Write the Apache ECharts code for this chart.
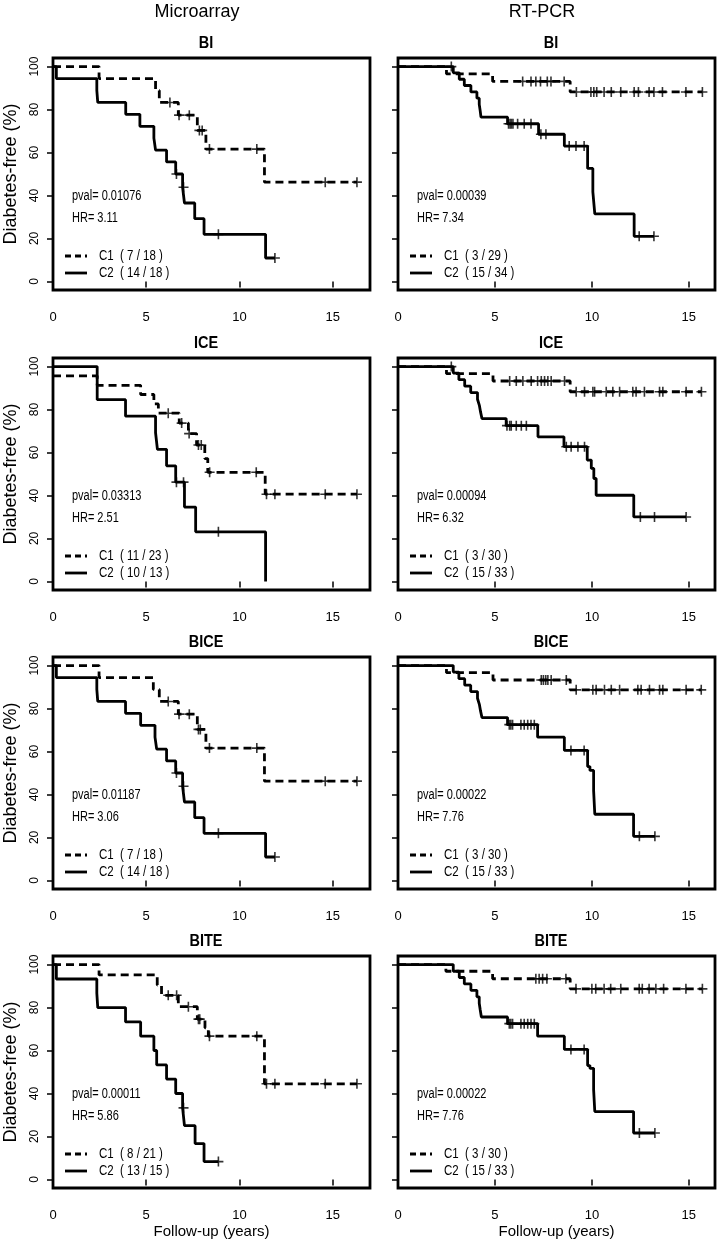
<!DOCTYPE html>
<html><head><meta charset="utf-8">
<script src="https://cdn.jsdelivr.net/npm/echarts@6/dist/echarts.min.js"></script>
<style>html,body{margin:0;padding:0;background:#fff}#c{width:717px;height:1243px}</style>
</head><body><div id="c"></div>
<script>
// ---------- texts ----------
const columnTitles = ['Microarray', 'RT-PCR'];
const panelTitles = ['BI', 'ICE', 'BICE', 'BITE'];
const xTicks = [0, 5, 10, 15];
const yTicks = [0, 20, 40, 60, 80, 100];
const xMaxByColumn = [17, 16.35];
const pvalMA = ['0.01076', '0.03313', '0.01187', '0.00011'];
const hrMA = ['3.11', '2.51', '3.06', '5.86'];
const pvalRT = ['0.00039', '0.00094', '0.00022', '0.00022'];
const hrRT = ['7.34', '6.32', '7.76', '7.76'];
const countsMA_C1 = ['7 / 18', '11 / 23', '7 / 18', '8 / 21'];
const countsMA_C2 = ['14 / 18', '10 / 13', '14 / 18', '13 / 15'];
const countsRT_C1 = ['3 / 29', '3 / 30', '3 / 30', '3 / 30'];
const countsRT_C2 = ['15 / 34', '15 / 33', '15 / 33', '15 / 33'];

// ---------- Microarray curves [years, %] ----------
const maBI_C1 = [[0,100],[2.47,94.4],[5.5,88.9],[5.7,83.3],[6.72,77.4],[7.74,70.3],[8.2,61.6],[11.34,46.2],[16.3,46.2]];
const maBI_C1cens = [[6.27,83.3],[6.76,77.4],[7.31,77.4],[7.85,70.3],[8.0,70.3],[8.39,61.6],[10.93,61.6],[14.6,46.2],[16.3,46.2]];
const maBI_C2 = [[0,100],[0.18,94.4],[2.35,88.9],[2.4,83.3],[3.9,77.8],[4.66,72.2],[5.41,66.7],[5.5,61.1],[6.09,55.6],[6.58,50],[6.95,43.8],[7.05,36.5],[7.6,29.2],[8.1,21.9],[11.4,10.9],[11.9,10.9]];
const maBI_C2cens = [[6.62,50],[7.0,43.8],[8.87,21.9],[11.9,10.9]];

const maICE_C1 = [[0,95.7],[2.37,91.3],[4.7,87],[5.41,82.6],[5.65,78.3],[6.77,73.7],[7.26,68.8],[7.7,63.5],[8.14,57.2],[8.3,50.8],[11.38,40.6],[16.3,40.6]];
const maICE_C1cens = [[6.18,78.3],[6.9,73.7],[7.3,68.8],[7.8,63.5],[7.95,63.5],[8.4,50.8],[10.9,50.8],[11.45,40.6],[11.9,40.6],[14.6,40.6],[16.3,40.6]];
const maICE_C2 = [[0,100],[2.37,84.6],[3.89,76.9],[5.5,69.2],[5.6,61.5],[6.09,53.8],[6.58,46.2],[7.05,34.6],[7.65,23.1],[11.4,0]];
const maICE_C2cens = [[6.62,46.2],[7.0,46.2],[8.87,23.1]];

const maBICE_C1 = [[0,100],[2.47,94.4],[5.38,88.9],[5.7,83.3],[6.72,77.4],[7.74,70.3],[8.2,61.6],[11.34,46.2],[16.3,46.2]];
const maBICE_C1cens = [[6.18,83.3],[6.76,77.4],[7.31,77.4],[7.8,70.3],[7.9,70.3],[8.39,61.6],[10.93,61.6],[14.6,46.2],[16.3,46.2]];
const maBICE_C2 = [[0,100],[0.18,94.4],[2.35,88.9],[2.4,83.3],[3.89,77.8],[4.7,72.2],[5.47,66.7],[5.56,61.1],[6.09,55.6],[6.58,50],[6.95,43.8],[7.05,36.5],[7.6,29.2],[8.1,21.9],[11.4,10.9],[11.9,10.9]];
const maBICE_C2cens = [[6.62,50],[7.0,43.8],[8.87,21.9],[11.9,10.9]];

const maBITE_C1 = [[0,100],[2.47,95.2],[5.59,90.5],[5.82,85.7],[6.72,80.4],[7.74,74.6],[8.15,70.6],[8.33,66.7],[11.34,44.5],[16.3,44.5]];
const maBITE_C1cens = [[6.18,85.7],[6.63,85.7],[7.26,80.4],[7.8,74.6],[7.87,74.6],[8.39,66.7],[10.93,66.7],[11.45,44.5],[11.9,44.5],[14.6,44.5],[16.3,44.5]];
const maBITE_C2 = [[0,100],[0.18,93.3],[2.35,86.7],[2.4,80],[3.89,73.3],[4.7,66.7],[5.41,60],[5.56,53.3],[6.09,46.7],[6.58,40],[6.95,33.3],[7.05,25],[7.62,16.7],[8.1,8.3],[8.87,8.3]];
const maBITE_C2cens = [[7.0,33.3],[8.87,8.3]];

// ---------- RT-PCR curves ----------
const rtBI_C1 = [[0,100],[2.5,96.6],[4.88,93.1],[8.88,88.2],[15.7,88.2]];
const rtBI_C1cens = [[6.43,93.1],[6.86,93.1],[7.11,93.1],[7.35,93.1],[7.7,93.1],[7.89,93.1],[8.57,93.1],
  [9.2,88.2],[9.95,88.2],[10.1,88.2],[10.25,88.2],[10.63,88.2],[11.0,88.2],[11.49,88.2],[12.18,88.2],[12.4,88.2],[12.95,88.2],[13.2,88.2],[13.64,88.2],[14.85,88.2],[15.7,88.2]];
const rtBI_C2 = [[0,100],[2.85,97.1],[3.16,94.1],[3.42,91.2],[3.76,88.2],[4.07,85.3],[4.19,82.4],[4.24,79.4],[4.28,76.5],[5.65,73.4],[7.25,68.5],[8.58,63],[9.78,52.6],[10.05,41.7],[10.15,31.4],[12.18,21],[13.2,21]];
const rtBI_C2cens = [[2.75,100],[5.7,73.4],[5.78,73.4],[5.85,73.4],[5.93,73.4],[6.17,73.4],[6.51,73.4],[6.86,73.4],
  [7.37,68.5],[7.63,68.5],[8.83,63],[9.18,63],[9.6,63],[12.44,21],[13.2,21]];

const rtICE_C1 = [[0,100],[2.5,96.7],[4.9,93.3],[8.88,88.3],[15.65,88.3]];
const rtICE_C1cens = [[5.76,93.3],[6.1,93.3],[6.44,93.3],[6.87,93.3],[7.2,93.3],[7.39,93.3],[7.56,93.3],[7.73,93.3],[7.9,93.3],[8.59,93.3],
  [9.19,88.3],[9.62,88.3],[10.05,88.3],[10.14,88.3],[10.74,88.3],[11.08,88.3],[11.43,88.3],[12.11,88.3],[12.28,88.3],[12.71,88.3],[13.49,88.3],[13.66,88.3],[14.86,88.3],[15.65,88.3]];
const rtICE_C2 = [[0,100],[2.85,97],[3.14,93.9],[3.44,90.9],[3.75,87.9],[4.1,84.8],[4.2,81.8],[4.26,78.8],[4.33,75.8],[5.58,72.5],[7.22,67.3],[8.56,62.7],[9.76,56.5],[9.97,52.6],[10.1,47.9],[10.22,40.1],[12.16,30],[14.86,30]];
const rtICE_C2cens = [[2.75,100],[5.62,72.5],[5.76,72.5],[5.84,72.5],[6.1,72.5],[6.36,72.5],[6.62,72.5],
  [8.68,62.7],[8.93,62.7],[9.28,62.7],[9.62,62.7],[12.5,30],[13.23,30],[14.86,30]];

const rtBICE_C1 = [[0,100],[2.5,96.7],[4.9,93.3],[8.88,88.7],[15.65,88.7]];
const rtBICE_C1cens = [[7.39,93.3],[7.5,93.3],[7.62,93.3],[7.73,93.3],[7.9,93.3],[8.68,93.3],
  [9.19,88.7],[10.05,88.7],[10.22,88.7],[10.65,88.7],[11.0,88.7],[11.43,88.7],[12.37,88.7],[12.54,88.7],[12.97,88.7],[13.49,88.7],[13.66,88.7],[14.86,88.7],[15.64,88.7]];
const rtBICE_C2 = [[0,100],[2.85,97],[3.14,93.9],[3.44,90.9],[3.75,87.9],[4.1,84.8],[4.2,81.8],[4.26,78.8],[4.33,75.8],[5.65,72.5],[7.2,66.7],[8.58,60.5],[9.78,53],[9.9,51.2],[10.09,41.7],[10.15,30.8],[12.15,20.5],[13.25,20.5]];
const rtBICE_C2cens = [[5.74,72.5],[5.82,72.5],[5.91,72.5],[6.34,72.5],[6.51,72.5],[6.69,72.5],[6.86,72.5],[7.03,72.5],
  [8.92,60.5],[9.6,60.5],[12.45,20.5],[13.25,20.5]];

const rtBITE_C1 = [[0,100],[2.47,96.9],[4.88,93.4],[8.88,88.7],[15.7,88.7]];
const rtBITE_C1cens = [[7.11,93.4],[7.28,93.4],[7.46,93.4],[7.68,93.4],[8.66,93.4],
  [9.18,88.7],[10.0,88.7],[10.2,88.7],[10.63,88.7],[10.97,88.7],[11.49,88.7],[12.44,88.7],[12.6,88.7],[12.95,88.7],[13.3,88.7],[13.7,88.7],[14.85,88.7],[15.7,88.7]];
const rtBITE_C2 = [[0,100],[2.85,96.9],[3.16,94],[3.42,91],[3.76,88],[4.07,85],[4.19,82],[4.24,79],[4.3,75.6],[5.65,72.5],[7.2,66.7],[8.58,60.5],[9.78,53],[9.9,51.7],[10.09,41.7],[10.15,31.6],[12.15,21.6],[13.25,21.6]];
const rtBITE_C2cens = [[5.74,72.5],[5.82,72.5],[5.91,72.5],[6.34,72.5],[6.51,72.5],[6.69,72.5],[6.86,72.5],[7.03,72.5],
  [8.92,60.5],[9.6,60.5],[12.45,21.6],[13.25,21.6]];

// ---------- layout ----------
const gridLefts = [53, 398], gridTops = [58, 358, 657, 956], gridW = 317, gridH = 232;
const FONT = '"Liberation Sans", Arial, Helvetica, sans-serif';
const crossPath = 'path://M4.2,0H5.8V4.2H10V5.8H5.8V10H4.2V5.8H0V4.2H4.2Z';

const panels = [
  {col:0,row:0,c1:maBI_C1,c1c:maBI_C1cens,c2:maBI_C2,c2c:maBI_C2cens},
  {col:0,row:1,c1:maICE_C1,c1c:maICE_C1cens,c2:maICE_C2,c2c:maICE_C2cens},
  {col:0,row:2,c1:maBICE_C1,c1c:maBICE_C1cens,c2:maBICE_C2,c2c:maBICE_C2cens},
  {col:0,row:3,c1:maBITE_C1,c1c:maBITE_C1cens,c2:maBITE_C2,c2c:maBITE_C2cens},
  {col:1,row:0,c1:rtBI_C1,c1c:rtBI_C1cens,c2:rtBI_C2,c2c:rtBI_C2cens},
  {col:1,row:1,c1:rtICE_C1,c1c:rtICE_C1cens,c2:rtICE_C2,c2c:rtICE_C2cens},
  {col:1,row:2,c1:rtBICE_C1,c1c:rtBICE_C1cens,c2:rtBICE_C2,c2c:rtBICE_C2cens},
  {col:1,row:3,c1:rtBITE_C1,c1c:rtBITE_C1cens,c2:rtBITE_C2,c2c:rtBITE_C2cens}
];

const grids = [], xAxes = [], yAxes = [], series = [], graphics = [];
function txt(x, y, text, size, opts) {
  opts = opts || {};
  return {type:'text', x:x, y:y, scaleY:opts.sy || 1, silent:true, z:10,
    style:{text:text, fill:'#000', fontSize:size, fontFamily:FONT, fontWeight:opts.weight||'normal',
      textAlign:opts.align||'left', align:opts.align||'left', textVerticalAlign:'middle', verticalAlign:'middle'}};
}

columnTitles.forEach((t, c) => graphics.push(txt(c === 0 ? 197 : 542, 12, t, 18, {align:'center', sy:1.05})));

panels.forEach((p, i) => {
  const gl = gridLefts[p.col], gt = gridTops[p.row];
  grids.push({left:gl, top:gt, width:gridW, height:gridH, show:true, borderColor:'#000', borderWidth:2.8, backgroundColor:'transparent'});
  xAxes.push({gridIndex:i, type:'value', min:0, max:xMaxByColumn[p.col],
    axisLine:{show:false}, splitLine:{show:false},
    axisTick:{show:true, length:6, lineStyle:{color:'#000', width:1.5}, customValues:xTicks},
    axisLabel:{show:true, customValues:xTicks, margin:21, fontSize:13, color:'#000', fontFamily:FONT},
    name: p.row === 3 ? 'Follow-up (years)' : '', nameLocation:'middle', nameGap:36,
    nameTextStyle:{fontSize:15, color:'#000', fontFamily:FONT}});
  yAxes.push({gridIndex:i, type:'value', min:-4, max:104,
    axisLine:{show:false}, splitLine:{show:false},
    axisTick:{show:true, length:6, lineStyle:{color:'#000', width:1.5}, customValues:yTicks},
    axisLabel:{show:p.col === 0, customValues:yTicks, rotate:90, margin:12, fontSize:12, color:'#000', fontFamily:FONT},
    name: p.col === 0 ? 'Diabetes-free (%)' : '', nameLocation:'middle', nameGap:33,
    nameTextStyle:{fontSize:18, color:'#000', fontFamily:FONT}});

  series.push({type:'line', xAxisIndex:i, yAxisIndex:i, data:p.c2, step:'end', symbol:'none', silent:true, z:3,
    lineStyle:{color:'#000', width:2.8, type:'solid'}});
  series.push({type:'line', xAxisIndex:i, yAxisIndex:i, data:p.c1, step:'end', symbol:'none', silent:true, z:3,
    lineStyle:{color:'#000', width:2.8, type:[8,5], cap:'butt'}});
  series.push({type:'scatter', xAxisIndex:i, yAxisIndex:i, data:p.c2c, symbol:crossPath, symbolSize:10, silent:true, z:4,
    itemStyle:{color:'#000'}});
  series.push({type:'scatter', xAxisIndex:i, yAxisIndex:i, data:p.c1c, symbol:crossPath, symbolSize:10, silent:true, z:4,
    itemStyle:{color:'#000'}});

  // panel title
  graphics.push(txt(gl + 153, gt - 15, panelTitles[p.row], 14.5, {align:'center', weight:'bold', sy:1.15}));
  // statistics
  const pv = p.col === 0 ? pvalMA[p.row] : pvalRT[p.row];
  const hr = p.col === 0 ? hrMA[p.row] : hrRT[p.row];
  graphics.push(txt(gl + 19, gt + 138, 'pval= ' + pv, 11, {sy:1.35}));
  graphics.push(txt(gl + 19, gt + 160, 'HR= ' + hr, 11, {sy:1.35}));
  // legend
  const n1 = p.col === 0 ? countsMA_C1[p.row] : countsRT_C1[p.row];
  const n2 = p.col === 0 ? countsMA_C2[p.row] : countsRT_C2[p.row];
  const ly1 = gt + 198, ly2 = gt + 215;
  graphics.push({type:'line', silent:true, z:10, shape:{x1:gl + 12, y1:ly1, x2:gl + 34, y2:ly1},
    style:{stroke:'#000', lineWidth:2.8, lineDash:[6,4]}});
  graphics.push({type:'line', silent:true, z:10, shape:{x1:gl + 12, y1:ly2, x2:gl + 34, y2:ly2},
    style:{stroke:'#000', lineWidth:2.8}});
  graphics.push(txt(gl + 46, ly1, 'C1  ( ' + n1 + ' )', 11.5, {sy:1.3}));
  graphics.push(txt(gl + 46, ly2, 'C2  ( ' + n2 + ' )', 11.5, {sy:1.3}));
});

const chart = echarts.init(document.getElementById('c'), null, {renderer:'canvas'});
chart.setOption({
  animation:false,
  backgroundColor:'#fff',
  textStyle:{fontFamily:FONT},
  grid:grids, xAxis:xAxes, yAxis:yAxes, series:series, graphic:graphics
});
</script></body></html>
